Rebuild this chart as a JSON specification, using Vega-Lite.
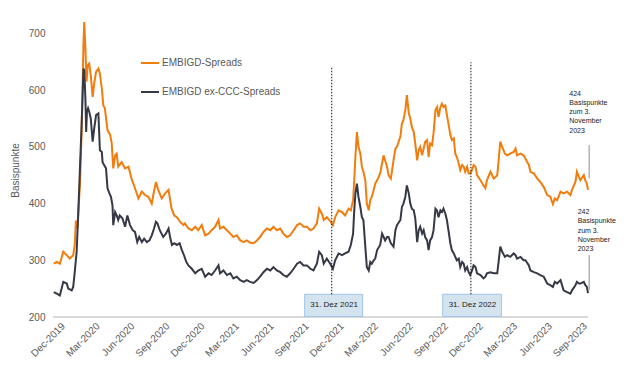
{
  "$schema": "https://vega.github.io/schema/vega-lite/v6.json",
  "width": 535,
  "height": 312,
  "autosize": {"type": "none"},
  "padding": {"left": 53, "top": 5, "right": 52, "bottom": 59},
  "background": "white",
  "config": {
    "view": {"stroke": null},
    "font": "Liberation Sans",
    "axis": {"labelFont": "Liberation Sans", "titleFont": "Liberation Sans", "labelColor": "#595959", "titleColor": "#595959", "labelFontSize": 10, "titleFontSize": 10, "titleFontWeight": "normal", "grid": false, "ticks": false, "labelOverlap": false},
    "axisX": {"labelOverlap": false, "labelAngle": -45},
    "legend": {"labelFont": "Liberation Sans"}
  },
  "datasets": {
    "spreads": [
      {"date":"2020-01-02","series":"EMBIGD-Spreads","value":294},
      {"date":"2020-01-10","series":"EMBIGD-Spreads","value":297},
      {"date":"2020-01-18","series":"EMBIGD-Spreads","value":294},
      {"date":"2020-01-27","series":"EMBIGD-Spreads","value":315},
      {"date":"2020-02-05","series":"EMBIGD-Spreads","value":309},
      {"date":"2020-02-13","series":"EMBIGD-Spreads","value":303},
      {"date":"2020-02-22","series":"EMBIGD-Spreads","value":309},
      {"date":"2020-02-26","series":"EMBIGD-Spreads","value":327},
      {"date":"2020-02-29","series":"EMBIGD-Spreads","value":370},
      {"date":"2020-03-04","series":"EMBIGD-Spreads","value":356},
      {"date":"2020-03-06","series":"EMBIGD-Spreads","value":379},
      {"date":"2020-03-11","series":"EMBIGD-Spreads","value":438},
      {"date":"2020-03-15","series":"EMBIGD-Spreads","value":526},
      {"date":"2020-03-20","series":"EMBIGD-Spreads","value":685},
      {"date":"2020-03-22","series":"EMBIGD-Spreads","value":720},
      {"date":"2020-03-25","series":"EMBIGD-Spreads","value":673},
      {"date":"2020-03-28","series":"EMBIGD-Spreads","value":615},
      {"date":"2020-03-31","series":"EMBIGD-Spreads","value":644},
      {"date":"2020-04-04","series":"EMBIGD-Spreads","value":647},
      {"date":"2020-04-08","series":"EMBIGD-Spreads","value":626},
      {"date":"2020-04-13","series":"EMBIGD-Spreads","value":588},
      {"date":"2020-04-17","series":"EMBIGD-Spreads","value":612},
      {"date":"2020-04-22","series":"EMBIGD-Spreads","value":632},
      {"date":"2020-04-28","series":"EMBIGD-Spreads","value":638},
      {"date":"2020-05-02","series":"EMBIGD-Spreads","value":629},
      {"date":"2020-05-07","series":"EMBIGD-Spreads","value":603},
      {"date":"2020-05-11","series":"EMBIGD-Spreads","value":573},
      {"date":"2020-05-15","series":"EMBIGD-Spreads","value":568},
      {"date":"2020-05-22","series":"EMBIGD-Spreads","value":529},
      {"date":"2020-05-29","series":"EMBIGD-Spreads","value":521},
      {"date":"2020-06-02","series":"EMBIGD-Spreads","value":506},
      {"date":"2020-06-06","series":"EMBIGD-Spreads","value":462},
      {"date":"2020-06-11","series":"EMBIGD-Spreads","value":485},
      {"date":"2020-06-15","series":"EMBIGD-Spreads","value":488},
      {"date":"2020-06-19","series":"EMBIGD-Spreads","value":465},
      {"date":"2020-06-28","series":"EMBIGD-Spreads","value":473},
      {"date":"2020-07-07","series":"EMBIGD-Spreads","value":462},
      {"date":"2020-07-16","series":"EMBIGD-Spreads","value":465},
      {"date":"2020-07-24","series":"EMBIGD-Spreads","value":444},
      {"date":"2020-08-02","series":"EMBIGD-Spreads","value":427},
      {"date":"2020-08-11","series":"EMBIGD-Spreads","value":409},
      {"date":"2020-08-20","series":"EMBIGD-Spreads","value":421},
      {"date":"2020-08-28","series":"EMBIGD-Spreads","value":415},
      {"date":"2020-09-06","series":"EMBIGD-Spreads","value":412},
      {"date":"2020-09-15","series":"EMBIGD-Spreads","value":400},
      {"date":"2020-09-19","series":"EMBIGD-Spreads","value":415},
      {"date":"2020-09-26","series":"EMBIGD-Spreads","value":438},
      {"date":"2020-10-02","series":"EMBIGD-Spreads","value":424},
      {"date":"2020-10-11","series":"EMBIGD-Spreads","value":409},
      {"date":"2020-10-20","series":"EMBIGD-Spreads","value":418},
      {"date":"2020-10-29","series":"EMBIGD-Spreads","value":424},
      {"date":"2020-11-06","series":"EMBIGD-Spreads","value":391},
      {"date":"2020-11-13","series":"EMBIGD-Spreads","value":379},
      {"date":"2020-11-20","series":"EMBIGD-Spreads","value":376},
      {"date":"2020-11-28","series":"EMBIGD-Spreads","value":368},
      {"date":"2020-12-07","series":"EMBIGD-Spreads","value":362},
      {"date":"2020-12-11","series":"EMBIGD-Spreads","value":365},
      {"date":"2020-12-20","series":"EMBIGD-Spreads","value":356},
      {"date":"2020-12-29","series":"EMBIGD-Spreads","value":353},
      {"date":"2021-01-07","series":"EMBIGD-Spreads","value":359},
      {"date":"2021-01-15","series":"EMBIGD-Spreads","value":353},
      {"date":"2021-01-24","series":"EMBIGD-Spreads","value":362},
      {"date":"2021-02-02","series":"EMBIGD-Spreads","value":344},
      {"date":"2021-02-11","series":"EMBIGD-Spreads","value":347},
      {"date":"2021-02-19","series":"EMBIGD-Spreads","value":353},
      {"date":"2021-02-28","series":"EMBIGD-Spreads","value":359},
      {"date":"2021-03-09","series":"EMBIGD-Spreads","value":371},
      {"date":"2021-03-13","series":"EMBIGD-Spreads","value":356},
      {"date":"2021-03-22","series":"EMBIGD-Spreads","value":359},
      {"date":"2021-03-31","series":"EMBIGD-Spreads","value":353},
      {"date":"2021-04-09","series":"EMBIGD-Spreads","value":347},
      {"date":"2021-04-17","series":"EMBIGD-Spreads","value":341},
      {"date":"2021-04-26","series":"EMBIGD-Spreads","value":344},
      {"date":"2021-05-05","series":"EMBIGD-Spreads","value":335},
      {"date":"2021-05-14","series":"EMBIGD-Spreads","value":332},
      {"date":"2021-05-22","series":"EMBIGD-Spreads","value":335},
      {"date":"2021-05-31","series":"EMBIGD-Spreads","value":331},
      {"date":"2021-06-09","series":"EMBIGD-Spreads","value":330},
      {"date":"2021-06-18","series":"EMBIGD-Spreads","value":335},
      {"date":"2021-06-26","series":"EMBIGD-Spreads","value":341},
      {"date":"2021-07-05","series":"EMBIGD-Spreads","value":350},
      {"date":"2021-07-14","series":"EMBIGD-Spreads","value":356},
      {"date":"2021-07-23","series":"EMBIGD-Spreads","value":353},
      {"date":"2021-07-31","series":"EMBIGD-Spreads","value":359},
      {"date":"2021-08-09","series":"EMBIGD-Spreads","value":353},
      {"date":"2021-08-18","series":"EMBIGD-Spreads","value":356},
      {"date":"2021-08-26","series":"EMBIGD-Spreads","value":347},
      {"date":"2021-09-04","series":"EMBIGD-Spreads","value":341},
      {"date":"2021-09-13","series":"EMBIGD-Spreads","value":344},
      {"date":"2021-09-22","series":"EMBIGD-Spreads","value":353},
      {"date":"2021-10-01","series":"EMBIGD-Spreads","value":362},
      {"date":"2021-10-09","series":"EMBIGD-Spreads","value":365},
      {"date":"2021-10-18","series":"EMBIGD-Spreads","value":359},
      {"date":"2021-10-27","series":"EMBIGD-Spreads","value":359},
      {"date":"2021-11-05","series":"EMBIGD-Spreads","value":353},
      {"date":"2021-11-13","series":"EMBIGD-Spreads","value":356},
      {"date":"2021-11-22","series":"EMBIGD-Spreads","value":365},
      {"date":"2021-11-28","series":"EMBIGD-Spreads","value":391},
      {"date":"2021-12-05","series":"EMBIGD-Spreads","value":382},
      {"date":"2021-12-10","series":"EMBIGD-Spreads","value":371},
      {"date":"2021-12-18","series":"EMBIGD-Spreads","value":376},
      {"date":"2021-12-27","series":"EMBIGD-Spreads","value":369},
      {"date":"2022-01-03","series":"EMBIGD-Spreads","value":362},
      {"date":"2022-01-09","series":"EMBIGD-Spreads","value":376},
      {"date":"2022-01-18","series":"EMBIGD-Spreads","value":388},
      {"date":"2022-01-27","series":"EMBIGD-Spreads","value":385},
      {"date":"2022-02-04","series":"EMBIGD-Spreads","value":379},
      {"date":"2022-02-13","series":"EMBIGD-Spreads","value":391},
      {"date":"2022-02-19","series":"EMBIGD-Spreads","value":388},
      {"date":"2022-02-25","series":"EMBIGD-Spreads","value":406},
      {"date":"2022-02-28","series":"EMBIGD-Spreads","value":441},
      {"date":"2022-03-03","series":"EMBIGD-Spreads","value":482},
      {"date":"2022-03-07","series":"EMBIGD-Spreads","value":526},
      {"date":"2022-03-11","series":"EMBIGD-Spreads","value":500},
      {"date":"2022-03-16","series":"EMBIGD-Spreads","value":488},
      {"date":"2022-03-20","series":"EMBIGD-Spreads","value":465},
      {"date":"2022-03-24","series":"EMBIGD-Spreads","value":456},
      {"date":"2022-03-29","series":"EMBIGD-Spreads","value":441},
      {"date":"2022-04-02","series":"EMBIGD-Spreads","value":400},
      {"date":"2022-04-07","series":"EMBIGD-Spreads","value":388},
      {"date":"2022-04-11","series":"EMBIGD-Spreads","value":406},
      {"date":"2022-04-15","series":"EMBIGD-Spreads","value":412},
      {"date":"2022-04-20","series":"EMBIGD-Spreads","value":424},
      {"date":"2022-04-24","series":"EMBIGD-Spreads","value":435},
      {"date":"2022-04-29","series":"EMBIGD-Spreads","value":441},
      {"date":"2022-05-07","series":"EMBIGD-Spreads","value":453},
      {"date":"2022-05-12","series":"EMBIGD-Spreads","value":471},
      {"date":"2022-05-16","series":"EMBIGD-Spreads","value":485},
      {"date":"2022-05-20","series":"EMBIGD-Spreads","value":476},
      {"date":"2022-05-25","series":"EMBIGD-Spreads","value":465},
      {"date":"2022-05-29","series":"EMBIGD-Spreads","value":450},
      {"date":"2022-06-04","series":"EMBIGD-Spreads","value":444},
      {"date":"2022-06-11","series":"EMBIGD-Spreads","value":476},
      {"date":"2022-06-16","series":"EMBIGD-Spreads","value":497},
      {"date":"2022-06-20","series":"EMBIGD-Spreads","value":500},
      {"date":"2022-06-29","series":"EMBIGD-Spreads","value":518},
      {"date":"2022-07-03","series":"EMBIGD-Spreads","value":541},
      {"date":"2022-07-07","series":"EMBIGD-Spreads","value":547},
      {"date":"2022-07-12","series":"EMBIGD-Spreads","value":565},
      {"date":"2022-07-16","series":"EMBIGD-Spreads","value":591},
      {"date":"2022-07-21","series":"EMBIGD-Spreads","value":559},
      {"date":"2022-07-25","series":"EMBIGD-Spreads","value":550},
      {"date":"2022-07-29","series":"EMBIGD-Spreads","value":535},
      {"date":"2022-08-03","series":"EMBIGD-Spreads","value":526},
      {"date":"2022-08-07","series":"EMBIGD-Spreads","value":506},
      {"date":"2022-08-12","series":"EMBIGD-Spreads","value":476},
      {"date":"2022-08-16","series":"EMBIGD-Spreads","value":494},
      {"date":"2022-08-20","series":"EMBIGD-Spreads","value":500},
      {"date":"2022-08-25","series":"EMBIGD-Spreads","value":485},
      {"date":"2022-08-29","series":"EMBIGD-Spreads","value":497},
      {"date":"2022-09-02","series":"EMBIGD-Spreads","value":509},
      {"date":"2022-09-07","series":"EMBIGD-Spreads","value":512},
      {"date":"2022-09-11","series":"EMBIGD-Spreads","value":482},
      {"date":"2022-09-15","series":"EMBIGD-Spreads","value":506},
      {"date":"2022-09-20","series":"EMBIGD-Spreads","value":503},
      {"date":"2022-09-24","series":"EMBIGD-Spreads","value":524},
      {"date":"2022-09-29","series":"EMBIGD-Spreads","value":565},
      {"date":"2022-10-03","series":"EMBIGD-Spreads","value":570},
      {"date":"2022-10-07","series":"EMBIGD-Spreads","value":553},
      {"date":"2022-10-12","series":"EMBIGD-Spreads","value":570},
      {"date":"2022-10-16","series":"EMBIGD-Spreads","value":576},
      {"date":"2022-10-20","series":"EMBIGD-Spreads","value":570},
      {"date":"2022-10-25","series":"EMBIGD-Spreads","value":573},
      {"date":"2022-10-29","series":"EMBIGD-Spreads","value":556},
      {"date":"2022-11-02","series":"EMBIGD-Spreads","value":541},
      {"date":"2022-11-07","series":"EMBIGD-Spreads","value":521},
      {"date":"2022-11-11","series":"EMBIGD-Spreads","value":512},
      {"date":"2022-11-16","series":"EMBIGD-Spreads","value":515},
      {"date":"2022-11-20","series":"EMBIGD-Spreads","value":488},
      {"date":"2022-11-24","series":"EMBIGD-Spreads","value":482},
      {"date":"2022-11-29","series":"EMBIGD-Spreads","value":471},
      {"date":"2022-12-03","series":"EMBIGD-Spreads","value":459},
      {"date":"2022-12-08","series":"EMBIGD-Spreads","value":468},
      {"date":"2022-12-12","series":"EMBIGD-Spreads","value":465},
      {"date":"2022-12-16","series":"EMBIGD-Spreads","value":456},
      {"date":"2022-12-21","series":"EMBIGD-Spreads","value":465},
      {"date":"2022-12-25","series":"EMBIGD-Spreads","value":453},
      {"date":"2022-12-29","series":"EMBIGD-Spreads","value":453},
      {"date":"2023-01-03","series":"EMBIGD-Spreads","value":459},
      {"date":"2023-01-07","series":"EMBIGD-Spreads","value":468},
      {"date":"2023-01-12","series":"EMBIGD-Spreads","value":465},
      {"date":"2023-01-16","series":"EMBIGD-Spreads","value":450},
      {"date":"2023-01-25","series":"EMBIGD-Spreads","value":441},
      {"date":"2023-02-02","series":"EMBIGD-Spreads","value":432},
      {"date":"2023-02-07","series":"EMBIGD-Spreads","value":427},
      {"date":"2023-02-11","series":"EMBIGD-Spreads","value":441},
      {"date":"2023-02-20","series":"EMBIGD-Spreads","value":456},
      {"date":"2023-03-01","series":"EMBIGD-Spreads","value":444},
      {"date":"2023-03-10","series":"EMBIGD-Spreads","value":450},
      {"date":"2023-03-14","series":"EMBIGD-Spreads","value":479},
      {"date":"2023-03-18","series":"EMBIGD-Spreads","value":509},
      {"date":"2023-03-23","series":"EMBIGD-Spreads","value":500},
      {"date":"2023-03-30","series":"EMBIGD-Spreads","value":488},
      {"date":"2023-04-05","series":"EMBIGD-Spreads","value":485},
      {"date":"2023-04-13","series":"EMBIGD-Spreads","value":488},
      {"date":"2023-04-22","series":"EMBIGD-Spreads","value":491},
      {"date":"2023-04-27","series":"EMBIGD-Spreads","value":497},
      {"date":"2023-05-01","series":"EMBIGD-Spreads","value":485},
      {"date":"2023-05-10","series":"EMBIGD-Spreads","value":488},
      {"date":"2023-05-18","series":"EMBIGD-Spreads","value":485},
      {"date":"2023-05-23","series":"EMBIGD-Spreads","value":479},
      {"date":"2023-06-01","series":"EMBIGD-Spreads","value":468},
      {"date":"2023-06-05","series":"EMBIGD-Spreads","value":456},
      {"date":"2023-06-14","series":"EMBIGD-Spreads","value":453},
      {"date":"2023-06-23","series":"EMBIGD-Spreads","value":444},
      {"date":"2023-07-01","series":"EMBIGD-Spreads","value":438},
      {"date":"2023-07-10","series":"EMBIGD-Spreads","value":429},
      {"date":"2023-07-19","series":"EMBIGD-Spreads","value":415},
      {"date":"2023-07-27","series":"EMBIGD-Spreads","value":412},
      {"date":"2023-08-03","series":"EMBIGD-Spreads","value":399},
      {"date":"2023-08-08","series":"EMBIGD-Spreads","value":409},
      {"date":"2023-08-14","series":"EMBIGD-Spreads","value":406},
      {"date":"2023-08-23","series":"EMBIGD-Spreads","value":421},
      {"date":"2023-08-31","series":"EMBIGD-Spreads","value":418},
      {"date":"2023-09-09","series":"EMBIGD-Spreads","value":421},
      {"date":"2023-09-18","series":"EMBIGD-Spreads","value":415},
      {"date":"2023-09-22","series":"EMBIGD-Spreads","value":424},
      {"date":"2023-10-01","series":"EMBIGD-Spreads","value":438},
      {"date":"2023-10-05","series":"EMBIGD-Spreads","value":456},
      {"date":"2023-10-10","series":"EMBIGD-Spreads","value":447},
      {"date":"2023-10-14","series":"EMBIGD-Spreads","value":441},
      {"date":"2023-10-23","series":"EMBIGD-Spreads","value":450},
      {"date":"2023-10-27","series":"EMBIGD-Spreads","value":441},
      {"date":"2023-10-31","series":"EMBIGD-Spreads","value":435},
      {"date":"2023-11-03","series":"EMBIGD-Spreads","value":424},
      {"date":"2020-01-02","series":"EMBIGD ex-CCC-Spreads","value":244},
      {"date":"2020-01-10","series":"EMBIGD ex-CCC-Spreads","value":241},
      {"date":"2020-01-18","series":"EMBIGD ex-CCC-Spreads","value":238},
      {"date":"2020-01-27","series":"EMBIGD ex-CCC-Spreads","value":262},
      {"date":"2020-02-05","series":"EMBIGD ex-CCC-Spreads","value":259},
      {"date":"2020-02-09","series":"EMBIGD ex-CCC-Spreads","value":250},
      {"date":"2020-02-18","series":"EMBIGD ex-CCC-Spreads","value":247},
      {"date":"2020-02-22","series":"EMBIGD ex-CCC-Spreads","value":253},
      {"date":"2020-02-26","series":"EMBIGD ex-CCC-Spreads","value":279},
      {"date":"2020-03-02","series":"EMBIGD ex-CCC-Spreads","value":315},
      {"date":"2020-03-06","series":"EMBIGD ex-CCC-Spreads","value":379},
      {"date":"2020-03-11","series":"EMBIGD ex-CCC-Spreads","value":468},
      {"date":"2020-03-15","series":"EMBIGD ex-CCC-Spreads","value":538},
      {"date":"2020-03-20","series":"EMBIGD ex-CCC-Spreads","value":638},
      {"date":"2020-03-22","series":"EMBIGD ex-CCC-Spreads","value":635},
      {"date":"2020-03-25","series":"EMBIGD ex-CCC-Spreads","value":585},
      {"date":"2020-03-27","series":"EMBIGD ex-CCC-Spreads","value":526},
      {"date":"2020-03-29","series":"EMBIGD ex-CCC-Spreads","value":562},
      {"date":"2020-04-01","series":"EMBIGD ex-CCC-Spreads","value":568},
      {"date":"2020-04-04","series":"EMBIGD ex-CCC-Spreads","value":562},
      {"date":"2020-04-08","series":"EMBIGD ex-CCC-Spreads","value":550},
      {"date":"2020-04-13","series":"EMBIGD ex-CCC-Spreads","value":509},
      {"date":"2020-04-17","series":"EMBIGD ex-CCC-Spreads","value":532},
      {"date":"2020-04-22","series":"EMBIGD ex-CCC-Spreads","value":556},
      {"date":"2020-04-28","series":"EMBIGD ex-CCC-Spreads","value":559},
      {"date":"2020-05-02","series":"EMBIGD ex-CCC-Spreads","value":494},
      {"date":"2020-05-07","series":"EMBIGD ex-CCC-Spreads","value":491},
      {"date":"2020-05-09","series":"EMBIGD ex-CCC-Spreads","value":473},
      {"date":"2020-05-13","series":"EMBIGD ex-CCC-Spreads","value":468},
      {"date":"2020-05-18","series":"EMBIGD ex-CCC-Spreads","value":462},
      {"date":"2020-05-22","series":"EMBIGD ex-CCC-Spreads","value":427},
      {"date":"2020-05-27","series":"EMBIGD ex-CCC-Spreads","value":418},
      {"date":"2020-05-31","series":"EMBIGD ex-CCC-Spreads","value":412},
      {"date":"2020-06-04","series":"EMBIGD ex-CCC-Spreads","value":397},
      {"date":"2020-06-06","series":"EMBIGD ex-CCC-Spreads","value":362},
      {"date":"2020-06-11","series":"EMBIGD ex-CCC-Spreads","value":385},
      {"date":"2020-06-15","series":"EMBIGD ex-CCC-Spreads","value":379},
      {"date":"2020-06-19","series":"EMBIGD ex-CCC-Spreads","value":371},
      {"date":"2020-06-23","series":"EMBIGD ex-CCC-Spreads","value":379},
      {"date":"2020-06-30","series":"EMBIGD ex-CCC-Spreads","value":374},
      {"date":"2020-07-07","series":"EMBIGD ex-CCC-Spreads","value":359},
      {"date":"2020-07-13","series":"EMBIGD ex-CCC-Spreads","value":379},
      {"date":"2020-07-20","series":"EMBIGD ex-CCC-Spreads","value":362},
      {"date":"2020-07-27","series":"EMBIGD ex-CCC-Spreads","value":353},
      {"date":"2020-08-02","series":"EMBIGD ex-CCC-Spreads","value":350},
      {"date":"2020-08-08","series":"EMBIGD ex-CCC-Spreads","value":332},
      {"date":"2020-08-13","series":"EMBIGD ex-CCC-Spreads","value":341},
      {"date":"2020-08-20","series":"EMBIGD ex-CCC-Spreads","value":332},
      {"date":"2020-08-26","series":"EMBIGD ex-CCC-Spreads","value":338},
      {"date":"2020-09-02","series":"EMBIGD ex-CCC-Spreads","value":332},
      {"date":"2020-09-09","series":"EMBIGD ex-CCC-Spreads","value":335},
      {"date":"2020-09-15","series":"EMBIGD ex-CCC-Spreads","value":344},
      {"date":"2020-09-21","series":"EMBIGD ex-CCC-Spreads","value":356},
      {"date":"2020-09-26","series":"EMBIGD ex-CCC-Spreads","value":368},
      {"date":"2020-09-30","series":"EMBIGD ex-CCC-Spreads","value":365},
      {"date":"2020-10-06","series":"EMBIGD ex-CCC-Spreads","value":353},
      {"date":"2020-10-15","series":"EMBIGD ex-CCC-Spreads","value":341},
      {"date":"2020-10-22","series":"EMBIGD ex-CCC-Spreads","value":347},
      {"date":"2020-10-29","series":"EMBIGD ex-CCC-Spreads","value":356},
      {"date":"2020-11-02","series":"EMBIGD ex-CCC-Spreads","value":341},
      {"date":"2020-11-07","series":"EMBIGD ex-CCC-Spreads","value":327},
      {"date":"2020-11-13","series":"EMBIGD ex-CCC-Spreads","value":330},
      {"date":"2020-11-20","series":"EMBIGD ex-CCC-Spreads","value":327},
      {"date":"2020-11-27","series":"EMBIGD ex-CCC-Spreads","value":330},
      {"date":"2020-12-03","series":"EMBIGD ex-CCC-Spreads","value":318},
      {"date":"2020-12-09","series":"EMBIGD ex-CCC-Spreads","value":308},
      {"date":"2020-12-14","series":"EMBIGD ex-CCC-Spreads","value":298},
      {"date":"2020-12-20","series":"EMBIGD ex-CCC-Spreads","value":291},
      {"date":"2020-12-29","series":"EMBIGD ex-CCC-Spreads","value":285},
      {"date":"2021-01-07","series":"EMBIGD ex-CCC-Spreads","value":277},
      {"date":"2021-01-15","series":"EMBIGD ex-CCC-Spreads","value":282},
      {"date":"2021-01-24","series":"EMBIGD ex-CCC-Spreads","value":285},
      {"date":"2021-02-02","series":"EMBIGD ex-CCC-Spreads","value":271},
      {"date":"2021-02-11","series":"EMBIGD ex-CCC-Spreads","value":277},
      {"date":"2021-02-19","series":"EMBIGD ex-CCC-Spreads","value":274},
      {"date":"2021-02-28","series":"EMBIGD ex-CCC-Spreads","value":282},
      {"date":"2021-03-09","series":"EMBIGD ex-CCC-Spreads","value":291},
      {"date":"2021-03-13","series":"EMBIGD ex-CCC-Spreads","value":277},
      {"date":"2021-03-22","series":"EMBIGD ex-CCC-Spreads","value":282},
      {"date":"2021-03-31","series":"EMBIGD ex-CCC-Spreads","value":274},
      {"date":"2021-04-09","series":"EMBIGD ex-CCC-Spreads","value":277},
      {"date":"2021-04-17","series":"EMBIGD ex-CCC-Spreads","value":268},
      {"date":"2021-04-26","series":"EMBIGD ex-CCC-Spreads","value":271},
      {"date":"2021-05-05","series":"EMBIGD ex-CCC-Spreads","value":265},
      {"date":"2021-05-14","series":"EMBIGD ex-CCC-Spreads","value":262},
      {"date":"2021-05-22","series":"EMBIGD ex-CCC-Spreads","value":265},
      {"date":"2021-05-31","series":"EMBIGD ex-CCC-Spreads","value":262},
      {"date":"2021-06-09","series":"EMBIGD ex-CCC-Spreads","value":260},
      {"date":"2021-06-18","series":"EMBIGD ex-CCC-Spreads","value":265},
      {"date":"2021-06-26","series":"EMBIGD ex-CCC-Spreads","value":271},
      {"date":"2021-07-05","series":"EMBIGD ex-CCC-Spreads","value":279},
      {"date":"2021-07-14","series":"EMBIGD ex-CCC-Spreads","value":285},
      {"date":"2021-07-23","series":"EMBIGD ex-CCC-Spreads","value":282},
      {"date":"2021-07-31","series":"EMBIGD ex-CCC-Spreads","value":288},
      {"date":"2021-08-09","series":"EMBIGD ex-CCC-Spreads","value":282},
      {"date":"2021-08-18","series":"EMBIGD ex-CCC-Spreads","value":279},
      {"date":"2021-08-26","series":"EMBIGD ex-CCC-Spreads","value":274},
      {"date":"2021-09-04","series":"EMBIGD ex-CCC-Spreads","value":271},
      {"date":"2021-09-13","series":"EMBIGD ex-CCC-Spreads","value":277},
      {"date":"2021-09-22","series":"EMBIGD ex-CCC-Spreads","value":285},
      {"date":"2021-10-01","series":"EMBIGD ex-CCC-Spreads","value":294},
      {"date":"2021-10-09","series":"EMBIGD ex-CCC-Spreads","value":297},
      {"date":"2021-10-18","series":"EMBIGD ex-CCC-Spreads","value":291},
      {"date":"2021-10-27","series":"EMBIGD ex-CCC-Spreads","value":291},
      {"date":"2021-11-05","series":"EMBIGD ex-CCC-Spreads","value":285},
      {"date":"2021-11-13","series":"EMBIGD ex-CCC-Spreads","value":282},
      {"date":"2021-11-22","series":"EMBIGD ex-CCC-Spreads","value":294},
      {"date":"2021-11-28","series":"EMBIGD ex-CCC-Spreads","value":315},
      {"date":"2021-12-05","series":"EMBIGD ex-CCC-Spreads","value":309},
      {"date":"2021-12-10","series":"EMBIGD ex-CCC-Spreads","value":294},
      {"date":"2021-12-18","series":"EMBIGD ex-CCC-Spreads","value":303},
      {"date":"2021-12-27","series":"EMBIGD ex-CCC-Spreads","value":294},
      {"date":"2022-01-03","series":"EMBIGD ex-CCC-Spreads","value":285},
      {"date":"2022-01-09","series":"EMBIGD ex-CCC-Spreads","value":300},
      {"date":"2022-01-18","series":"EMBIGD ex-CCC-Spreads","value":312},
      {"date":"2022-01-27","series":"EMBIGD ex-CCC-Spreads","value":309},
      {"date":"2022-02-04","series":"EMBIGD ex-CCC-Spreads","value":312},
      {"date":"2022-02-13","series":"EMBIGD ex-CCC-Spreads","value":315},
      {"date":"2022-02-19","series":"EMBIGD ex-CCC-Spreads","value":327},
      {"date":"2022-02-25","series":"EMBIGD ex-CCC-Spreads","value":347},
      {"date":"2022-02-28","series":"EMBIGD ex-CCC-Spreads","value":388},
      {"date":"2022-03-03","series":"EMBIGD ex-CCC-Spreads","value":418},
      {"date":"2022-03-07","series":"EMBIGD ex-CCC-Spreads","value":435},
      {"date":"2022-03-11","series":"EMBIGD ex-CCC-Spreads","value":412},
      {"date":"2022-03-16","series":"EMBIGD ex-CCC-Spreads","value":394},
      {"date":"2022-03-20","series":"EMBIGD ex-CCC-Spreads","value":376},
      {"date":"2022-03-24","series":"EMBIGD ex-CCC-Spreads","value":371},
      {"date":"2022-03-29","series":"EMBIGD ex-CCC-Spreads","value":324},
      {"date":"2022-04-02","series":"EMBIGD ex-CCC-Spreads","value":288},
      {"date":"2022-04-07","series":"EMBIGD ex-CCC-Spreads","value":282},
      {"date":"2022-04-11","series":"EMBIGD ex-CCC-Spreads","value":297},
      {"date":"2022-04-15","series":"EMBIGD ex-CCC-Spreads","value":294},
      {"date":"2022-04-20","series":"EMBIGD ex-CCC-Spreads","value":300},
      {"date":"2022-04-24","series":"EMBIGD ex-CCC-Spreads","value":303},
      {"date":"2022-04-29","series":"EMBIGD ex-CCC-Spreads","value":318},
      {"date":"2022-05-07","series":"EMBIGD ex-CCC-Spreads","value":327},
      {"date":"2022-05-12","series":"EMBIGD ex-CCC-Spreads","value":347},
      {"date":"2022-05-16","series":"EMBIGD ex-CCC-Spreads","value":341},
      {"date":"2022-05-20","series":"EMBIGD ex-CCC-Spreads","value":335},
      {"date":"2022-05-25","series":"EMBIGD ex-CCC-Spreads","value":341},
      {"date":"2022-05-29","series":"EMBIGD ex-CCC-Spreads","value":341},
      {"date":"2022-06-04","series":"EMBIGD ex-CCC-Spreads","value":330},
      {"date":"2022-06-11","series":"EMBIGD ex-CCC-Spreads","value":324},
      {"date":"2022-06-16","series":"EMBIGD ex-CCC-Spreads","value":353},
      {"date":"2022-06-20","series":"EMBIGD ex-CCC-Spreads","value":362},
      {"date":"2022-06-29","series":"EMBIGD ex-CCC-Spreads","value":371},
      {"date":"2022-07-03","series":"EMBIGD ex-CCC-Spreads","value":394},
      {"date":"2022-07-07","series":"EMBIGD ex-CCC-Spreads","value":400},
      {"date":"2022-07-12","series":"EMBIGD ex-CCC-Spreads","value":412},
      {"date":"2022-07-16","series":"EMBIGD ex-CCC-Spreads","value":432},
      {"date":"2022-07-21","series":"EMBIGD ex-CCC-Spreads","value":418},
      {"date":"2022-07-25","series":"EMBIGD ex-CCC-Spreads","value":400},
      {"date":"2022-07-29","series":"EMBIGD ex-CCC-Spreads","value":391},
      {"date":"2022-08-03","series":"EMBIGD ex-CCC-Spreads","value":388},
      {"date":"2022-08-07","series":"EMBIGD ex-CCC-Spreads","value":374},
      {"date":"2022-08-12","series":"EMBIGD ex-CCC-Spreads","value":332},
      {"date":"2022-08-16","series":"EMBIGD ex-CCC-Spreads","value":353},
      {"date":"2022-08-20","series":"EMBIGD ex-CCC-Spreads","value":359},
      {"date":"2022-08-25","series":"EMBIGD ex-CCC-Spreads","value":347},
      {"date":"2022-08-29","series":"EMBIGD ex-CCC-Spreads","value":353},
      {"date":"2022-09-02","series":"EMBIGD ex-CCC-Spreads","value":341},
      {"date":"2022-09-07","series":"EMBIGD ex-CCC-Spreads","value":335},
      {"date":"2022-09-11","series":"EMBIGD ex-CCC-Spreads","value":318},
      {"date":"2022-09-15","series":"EMBIGD ex-CCC-Spreads","value":335},
      {"date":"2022-09-20","series":"EMBIGD ex-CCC-Spreads","value":341},
      {"date":"2022-09-24","series":"EMBIGD ex-CCC-Spreads","value":353},
      {"date":"2022-09-29","series":"EMBIGD ex-CCC-Spreads","value":391},
      {"date":"2022-10-03","series":"EMBIGD ex-CCC-Spreads","value":388},
      {"date":"2022-10-07","series":"EMBIGD ex-CCC-Spreads","value":376},
      {"date":"2022-10-12","series":"EMBIGD ex-CCC-Spreads","value":388},
      {"date":"2022-10-16","series":"EMBIGD ex-CCC-Spreads","value":385},
      {"date":"2022-10-20","series":"EMBIGD ex-CCC-Spreads","value":391},
      {"date":"2022-10-25","series":"EMBIGD ex-CCC-Spreads","value":382},
      {"date":"2022-10-29","series":"EMBIGD ex-CCC-Spreads","value":371},
      {"date":"2022-11-02","series":"EMBIGD ex-CCC-Spreads","value":353},
      {"date":"2022-11-07","series":"EMBIGD ex-CCC-Spreads","value":330},
      {"date":"2022-11-11","series":"EMBIGD ex-CCC-Spreads","value":318},
      {"date":"2022-11-16","series":"EMBIGD ex-CCC-Spreads","value":312},
      {"date":"2022-11-20","series":"EMBIGD ex-CCC-Spreads","value":306},
      {"date":"2022-11-24","series":"EMBIGD ex-CCC-Spreads","value":300},
      {"date":"2022-11-29","series":"EMBIGD ex-CCC-Spreads","value":303},
      {"date":"2022-12-03","series":"EMBIGD ex-CCC-Spreads","value":288},
      {"date":"2022-12-08","series":"EMBIGD ex-CCC-Spreads","value":297},
      {"date":"2022-12-12","series":"EMBIGD ex-CCC-Spreads","value":294},
      {"date":"2022-12-16","series":"EMBIGD ex-CCC-Spreads","value":282},
      {"date":"2022-12-21","series":"EMBIGD ex-CCC-Spreads","value":288},
      {"date":"2022-12-25","series":"EMBIGD ex-CCC-Spreads","value":279},
      {"date":"2022-12-29","series":"EMBIGD ex-CCC-Spreads","value":274},
      {"date":"2023-01-03","series":"EMBIGD ex-CCC-Spreads","value":282},
      {"date":"2023-01-07","series":"EMBIGD ex-CCC-Spreads","value":291},
      {"date":"2023-01-12","series":"EMBIGD ex-CCC-Spreads","value":288},
      {"date":"2023-01-16","series":"EMBIGD ex-CCC-Spreads","value":277},
      {"date":"2023-01-25","series":"EMBIGD ex-CCC-Spreads","value":274},
      {"date":"2023-02-02","series":"EMBIGD ex-CCC-Spreads","value":268},
      {"date":"2023-02-07","series":"EMBIGD ex-CCC-Spreads","value":271},
      {"date":"2023-02-11","series":"EMBIGD ex-CCC-Spreads","value":277},
      {"date":"2023-02-20","series":"EMBIGD ex-CCC-Spreads","value":279},
      {"date":"2023-03-01","series":"EMBIGD ex-CCC-Spreads","value":277},
      {"date":"2023-03-10","series":"EMBIGD ex-CCC-Spreads","value":277},
      {"date":"2023-03-14","series":"EMBIGD ex-CCC-Spreads","value":300},
      {"date":"2023-03-18","series":"EMBIGD ex-CCC-Spreads","value":324},
      {"date":"2023-03-23","series":"EMBIGD ex-CCC-Spreads","value":315},
      {"date":"2023-03-30","series":"EMBIGD ex-CCC-Spreads","value":306},
      {"date":"2023-04-05","series":"EMBIGD ex-CCC-Spreads","value":309},
      {"date":"2023-04-13","series":"EMBIGD ex-CCC-Spreads","value":306},
      {"date":"2023-04-22","series":"EMBIGD ex-CCC-Spreads","value":312},
      {"date":"2023-04-27","series":"EMBIGD ex-CCC-Spreads","value":309},
      {"date":"2023-05-01","series":"EMBIGD ex-CCC-Spreads","value":303},
      {"date":"2023-05-10","series":"EMBIGD ex-CCC-Spreads","value":306},
      {"date":"2023-05-18","series":"EMBIGD ex-CCC-Spreads","value":300},
      {"date":"2023-05-23","series":"EMBIGD ex-CCC-Spreads","value":300},
      {"date":"2023-06-01","series":"EMBIGD ex-CCC-Spreads","value":291},
      {"date":"2023-06-05","series":"EMBIGD ex-CCC-Spreads","value":282},
      {"date":"2023-06-14","series":"EMBIGD ex-CCC-Spreads","value":279},
      {"date":"2023-06-23","series":"EMBIGD ex-CCC-Spreads","value":277},
      {"date":"2023-07-01","series":"EMBIGD ex-CCC-Spreads","value":274},
      {"date":"2023-07-10","series":"EMBIGD ex-CCC-Spreads","value":271},
      {"date":"2023-07-19","series":"EMBIGD ex-CCC-Spreads","value":259},
      {"date":"2023-07-27","series":"EMBIGD ex-CCC-Spreads","value":256},
      {"date":"2023-08-03","series":"EMBIGD ex-CCC-Spreads","value":253},
      {"date":"2023-08-08","series":"EMBIGD ex-CCC-Spreads","value":262},
      {"date":"2023-08-14","series":"EMBIGD ex-CCC-Spreads","value":259},
      {"date":"2023-08-23","series":"EMBIGD ex-CCC-Spreads","value":265},
      {"date":"2023-08-31","series":"EMBIGD ex-CCC-Spreads","value":247},
      {"date":"2023-09-09","series":"EMBIGD ex-CCC-Spreads","value":244},
      {"date":"2023-09-18","series":"EMBIGD ex-CCC-Spreads","value":241},
      {"date":"2023-09-22","series":"EMBIGD ex-CCC-Spreads","value":247},
      {"date":"2023-10-01","series":"EMBIGD ex-CCC-Spreads","value":256},
      {"date":"2023-10-05","series":"EMBIGD ex-CCC-Spreads","value":262},
      {"date":"2023-10-10","series":"EMBIGD ex-CCC-Spreads","value":259},
      {"date":"2023-10-14","series":"EMBIGD ex-CCC-Spreads","value":259},
      {"date":"2023-10-23","series":"EMBIGD ex-CCC-Spreads","value":262},
      {"date":"2023-10-27","series":"EMBIGD ex-CCC-Spreads","value":256},
      {"date":"2023-10-31","series":"EMBIGD ex-CCC-Spreads","value":253},
      {"date":"2023-11-03","series":"EMBIGD ex-CCC-Spreads","value":242}
    ],
    "ticks": [
      {"date":"2019-12-31"},{"date":"2020-03-31"},{"date":"2020-06-30"},{"date":"2020-09-30"},
      {"date":"2020-12-31"},{"date":"2021-03-31"},{"date":"2021-06-30"},{"date":"2021-09-30"},
      {"date":"2021-12-31"},{"date":"2022-03-31"},{"date":"2022-06-30"},{"date":"2022-09-30"},
      {"date":"2022-12-31"},{"date":"2023-03-31"},{"date":"2023-06-30"},{"date":"2023-09-30"}
    ],
    "yearends": [
      {"date":"2021-12-31","lo":240,"hi":642,"start":"2021-10-21","end":"2022-03-22","mid":"2022-01-06","label":"31. Dez 2021"},
      {"date":"2022-12-31","lo":240,"hi":649,"start":"2022-10-18","end":"2023-03-21","mid":"2023-01-04","label":"31. Dez 2022"}
    ],
    "notes": [
      {"date":"2023-11-06","lo":444,"hi":503,"tdate":"2023-09-15","ty":601,"label":"424\nBasispunkte\nzum 3.\nNovember\n2023"},
      {"date":"2023-11-06","lo":247,"hi":309,"tdate":"2023-10-07","ty":392,"label":"242\nBasispunkte\nzum 3.\nNovember\n2023"}
    ]
  },
  "layer": [
    {
      "data": {"name": "spreads"},
      "mark": {"type": "line", "strokeWidth": 2, "interpolate": "linear"},
      "encoding": {
        "x": {
          "field": "date", "type": "temporal",
          "scale": {"type": "utc", "domain": [{"year": 2019, "month": 12, "date": 31, "utc": true}, {"year": 2023, "month": 11, "date": 3, "utc": true}]},
          "axis": null
        },
        "y": {
          "field": "value", "type": "quantitative",
          "scale": {"domain": [200, 750], "nice": false, "zero": false},
          "axis": {"title": "Basispunkte", "values": [200, 300, 400, 500, 600, 700], "domain": false, "labelPadding": 8, "titlePadding": 8, "titleY": 165}
        },
        "color": {
          "field": "series", "type": "nominal",
          "scale": {"domain": ["EMBIGD-Spreads", "EMBIGD ex-CCC-Spreads"], "range": ["#f27c0c", "#353946"]},
          "legend": {"title": null, "orient": "none", "legendX": 87, "legendY": 48, "symbolType": "stroke", "symbolSize": 324, "symbolStrokeWidth": 2, "labelFontSize": 10, "labelColor": "#595959", "rowPadding": 14, "labelOffset": 2, "padding": 0}
        }
      }
    },
    {
      "data": {"name": "ticks"},
      "mark": {"type": "text", "angle": 315, "align": "right", "baseline": "top", "fontSize": 10, "color": "#595959", "font": "Liberation Sans", "dy": 8, "dx": 2},
      "encoding": {
        "x": {"field": "date", "type": "temporal"},
        "y": {"datum": 200, "type": "quantitative"},
        "text": {"field": "date", "type": "temporal", "format": "%b-%Y"}
      }
    },
    {
      "data": {"name": "ticks"},
      "mark": {"type": "rule", "color": "#d9d9d9", "strokeWidth": 1},
      "encoding": {
        "x": {"datum": {"year": 2019, "month": 12, "date": 31, "utc": true}, "type": "temporal"},
        "x2": {"datum": {"year": 2023, "month": 11, "date": 3, "utc": true}},
        "y": {"datum": 200, "type": "quantitative"}
      }
    },
    {
      "data": {"name": "yearends"},
      "mark": {"type": "rect", "fill": "#d3e4ee", "stroke": "#9fc5e8", "strokeWidth": 1},
      "encoding": {
        "x": {"field": "start", "type": "temporal"},
        "x2": {"field": "end"},
        "y": {"datum": 201, "type": "quantitative"},
        "y2": {"datum": 240}
      }
    },
    {
      "data": {"name": "yearends"},
      "mark": {"type": "text", "fontSize": 8, "color": "#222222", "align": "center", "baseline": "middle", "font": "Liberation Sans"},
      "encoding": {
        "x": {"field": "mid", "type": "temporal"},
        "y": {"datum": 220.5, "type": "quantitative"},
        "text": {"field": "label"}
      }
    },
    {
      "data": {"name": "yearends"},
      "mark": {"type": "rule", "color": "#111111", "strokeWidth": 1, "strokeDash": [1.5, 1.5]},
      "encoding": {
        "x": {"field": "date", "type": "temporal"},
        "y": {"field": "lo", "type": "quantitative"},
        "y2": {"field": "hi"}
      }
    },
    {
      "data": {"name": "notes"},
      "mark": {"type": "rule", "color": "#8c8c8c", "strokeWidth": 1},
      "encoding": {
        "x": {"field": "date", "type": "temporal"},
        "y": {"field": "lo", "type": "quantitative"},
        "y2": {"field": "hi"}
      }
    },
    {
      "data": {"name": "notes"},
      "mark": {"type": "text", "fontSize": 7, "color": "#1a1a1a", "align": "left", "baseline": "top", "lineBreak": "\n", "lineHeight": 9.3, "font": "Liberation Sans"},
      "encoding": {
        "x": {"field": "tdate", "type": "temporal"},
        "y": {"field": "ty", "type": "quantitative"},
        "text": {"field": "label"}
      }
    }
  ]
}
